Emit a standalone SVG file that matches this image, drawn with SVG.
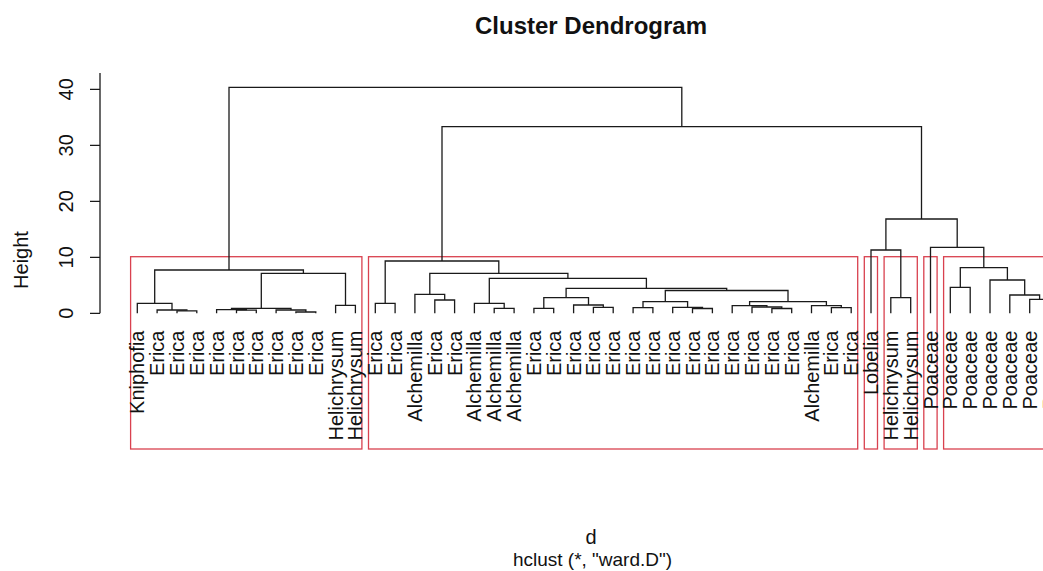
<svg xmlns="http://www.w3.org/2000/svg" width="1043" height="571" viewBox="0 0 1043 571">
<style>
  text { font-family: "Liberation Sans", Arial, sans-serif; fill: #111; }
  .title { font-size: 24px; font-weight: bold; text-anchor: middle; }
  .lab { font-size: 20px; }
  .sub { font-size: 19px; text-anchor: middle; }
  .leaf { font-size: 20px; text-anchor: end; }
  .axis { stroke: #1a1a1a; stroke-width: 1.3; fill: none; }
  .tree path { stroke: #1a1a1a; stroke-width: 1.3; fill: none; }
  .box { stroke: #d9414f; stroke-width: 1.3; fill: none; }
</style>
<rect width="1043" height="571" fill="#ffffff"/>
<text class="title" x="591" y="33.5">Cluster Dendrogram</text>
<g id="y-axis">
  <path class="axis" d="M100,73 V313.3 M90,313.3 H100 M90,257.3 H100 M90,201.3 H100 M90,145.3 H100 M90,89.3 H100"/>
  <text class="lab" text-anchor="middle" transform="translate(73,313.3) rotate(-90)">0</text>
  <text class="lab" text-anchor="middle" transform="translate(73,257.3) rotate(-90)">10</text>
  <text class="lab" text-anchor="middle" transform="translate(73,201.3) rotate(-90)">20</text>
  <text class="lab" text-anchor="middle" transform="translate(73,145.3) rotate(-90)">30</text>
  <text class="lab" text-anchor="middle" transform="translate(73,89.3) rotate(-90)">40</text>
  <text class="lab" text-anchor="middle" transform="translate(28,260) rotate(-90)">Height</text>
</g>
<g id="clusters">
  <rect id="cluster-1" class="box" x="130.6" y="256.7" width="231.3" height="192.3"/>
  <rect id="cluster-2" class="box" x="368.5" y="256.7" width="489.2" height="192.3"/>
  <rect id="cluster-3" class="box" x="864.3" y="256.7" width="13.2" height="192.3"/>
  <rect id="cluster-4" class="box" x="884.1" y="256.7" width="33.2" height="192.3"/>
  <rect id="cluster-5" class="box" x="923.8" y="256.7" width="13.3" height="192.3"/>
  <rect id="cluster-6" class="box" x="943.6" y="256.7" width="112.4" height="192.3"/>
</g>
<g id="connectors" class="tree">
  <path d="M177.0,313.3 V310.8 H196.8 V313.3"/>
  <path d="M157.1,313.3 V310.0 H186.9 V310.8"/>
  <path d="M137.3,313.3 V303.3 H172.0 V310.0"/>
  <path d="M236.5,313.3 V310.2 H256.3 V313.3"/>
  <path d="M216.6,313.3 V309.6 H246.4 V310.2"/>
  <path d="M295.9,313.3 V312.0 H315.8 V313.3"/>
  <path d="M276.1,313.3 V310.0 H305.9 V312.0"/>
  <path d="M231.5,309.6 V308.3 H291.0 V310.0"/>
  <path d="M335.6,313.3 V305.3 H355.4 V313.3"/>
  <path d="M261.3,308.3 V273.3 H345.5 V305.3"/>
  <path d="M154.7,303.3 V270.0 H303.4 V273.3"/>
  <path d="M375.3,313.3 V303.3 H395.1 V313.3"/>
  <path d="M434.8,313.3 V300.0 H454.6 V313.3"/>
  <path d="M414.9,313.3 V294.3 H444.7 V300.0"/>
  <path d="M494.2,313.3 V308.3 H514.1 V313.3"/>
  <path d="M474.4,313.3 V303.3 H504.2 V308.3"/>
  <path d="M533.9,313.3 V308.3 H553.7 V313.3"/>
  <path d="M593.4,313.3 V307.3 H613.2 V313.3"/>
  <path d="M573.6,313.3 V305.0 H603.3 V307.3"/>
  <path d="M543.8,308.3 V297.7 H588.5 V305.0"/>
  <path d="M633.1,313.3 V307.7 H652.9 V313.3"/>
  <path d="M692.5,313.3 V308.5 H712.4 V313.3"/>
  <path d="M672.7,313.3 V307.3 H702.5 V308.5"/>
  <path d="M643.0,307.7 V301.7 H687.6 V307.3"/>
  <path d="M771.9,313.3 V308.5 H791.7 V313.3"/>
  <path d="M752.0,313.3 V307.0 H781.8 V308.5"/>
  <path d="M732.2,313.3 V305.7 H766.9 V307.0"/>
  <path d="M831.4,313.3 V307.7 H851.2 V313.3"/>
  <path d="M811.5,313.3 V305.7 H841.3 V307.7"/>
  <path d="M749.6,305.7 V301.7 H826.4 V305.7"/>
  <path d="M665.3,301.7 V290.5 H788.0 V301.7"/>
  <path d="M566.1,297.7 V288.3 H726.7 V290.5"/>
  <path d="M489.3,303.3 V278.3 H646.4 V288.3"/>
  <path d="M429.8,294.3 V273.3 H567.9 V278.3"/>
  <path d="M385.2,303.3 V261.0 H498.8 V273.3"/>
  <path d="M890.8,313.3 V297.7 H910.7 V313.3"/>
  <path d="M871.0,313.3 V250.0 H900.8 V297.7"/>
  <path d="M950.3,313.3 V287.3 H970.2 V313.3"/>
  <path d="M1029.7,313.3 V299.3 H1049.5 V313.3"/>
  <path d="M1009.8,313.3 V295.0 H1039.6 V299.3"/>
  <path d="M990.0,313.3 V280.0 H1024.7 V295.0"/>
  <path d="M960.3,287.3 V267.7 H1007.4 V280.0"/>
  <path d="M930.5,313.3 V247.3 H983.8 V267.7"/>
  <path d="M885.9,250.0 V219.0 H957.2 V247.3"/>
  <path d="M442.0,261.0 V126.7 H921.5 V219.0"/>
  <path d="M229.0,270.0 V87.3 H681.8 V126.7"/>
</g>
<g id="leaves">
  <g id="leaf-1"><text class="leaf" transform="translate(144.3,330.5) rotate(-90)">Kniphofia</text></g>
  <g id="leaf-2"><text class="leaf" transform="translate(164.1,330.5) rotate(-90)">Erica</text></g>
  <g id="leaf-3"><text class="leaf" transform="translate(184.0,330.5) rotate(-90)">Erica</text></g>
  <g id="leaf-4"><text class="leaf" transform="translate(203.8,330.5) rotate(-90)">Erica</text></g>
  <g id="leaf-5"><text class="leaf" transform="translate(223.6,330.5) rotate(-90)">Erica</text></g>
  <g id="leaf-6"><text class="leaf" transform="translate(243.5,330.5) rotate(-90)">Erica</text></g>
  <g id="leaf-7"><text class="leaf" transform="translate(263.3,330.5) rotate(-90)">Erica</text></g>
  <g id="leaf-8"><text class="leaf" transform="translate(283.1,330.5) rotate(-90)">Erica</text></g>
  <g id="leaf-9"><text class="leaf" transform="translate(302.9,330.5) rotate(-90)">Erica</text></g>
  <g id="leaf-10"><text class="leaf" transform="translate(322.8,330.5) rotate(-90)">Erica</text></g>
  <g id="leaf-11"><text class="leaf" transform="translate(342.6,330.5) rotate(-90)">Helichrysum</text></g>
  <g id="leaf-12"><text class="leaf" transform="translate(362.4,330.5) rotate(-90)">Helichrysum</text></g>
  <g id="leaf-13"><text class="leaf" transform="translate(382.3,330.5) rotate(-90)">Erica</text></g>
  <g id="leaf-14"><text class="leaf" transform="translate(402.1,330.5) rotate(-90)">Erica</text></g>
  <g id="leaf-15"><text class="leaf" transform="translate(421.9,330.5) rotate(-90)">Alchemilla</text></g>
  <g id="leaf-16"><text class="leaf" transform="translate(441.8,330.5) rotate(-90)">Erica</text></g>
  <g id="leaf-17"><text class="leaf" transform="translate(461.6,330.5) rotate(-90)">Erica</text></g>
  <g id="leaf-18"><text class="leaf" transform="translate(481.4,330.5) rotate(-90)">Alchemilla</text></g>
  <g id="leaf-19"><text class="leaf" transform="translate(501.2,330.5) rotate(-90)">Alchemilla</text></g>
  <g id="leaf-20"><text class="leaf" transform="translate(521.1,330.5) rotate(-90)">Alchemilla</text></g>
  <g id="leaf-21"><text class="leaf" transform="translate(540.9,330.5) rotate(-90)">Erica</text></g>
  <g id="leaf-22"><text class="leaf" transform="translate(560.7,330.5) rotate(-90)">Erica</text></g>
  <g id="leaf-23"><text class="leaf" transform="translate(580.6,330.5) rotate(-90)">Erica</text></g>
  <g id="leaf-24"><text class="leaf" transform="translate(600.4,330.5) rotate(-90)">Erica</text></g>
  <g id="leaf-25"><text class="leaf" transform="translate(620.2,330.5) rotate(-90)">Erica</text></g>
  <g id="leaf-26"><text class="leaf" transform="translate(640.1,330.5) rotate(-90)">Erica</text></g>
  <g id="leaf-27"><text class="leaf" transform="translate(659.9,330.5) rotate(-90)">Erica</text></g>
  <g id="leaf-28"><text class="leaf" transform="translate(679.7,330.5) rotate(-90)">Erica</text></g>
  <g id="leaf-29"><text class="leaf" transform="translate(699.5,330.5) rotate(-90)">Erica</text></g>
  <g id="leaf-30"><text class="leaf" transform="translate(719.4,330.5) rotate(-90)">Erica</text></g>
  <g id="leaf-31"><text class="leaf" transform="translate(739.2,330.5) rotate(-90)">Erica</text></g>
  <g id="leaf-32"><text class="leaf" transform="translate(759.0,330.5) rotate(-90)">Erica</text></g>
  <g id="leaf-33"><text class="leaf" transform="translate(778.9,330.5) rotate(-90)">Erica</text></g>
  <g id="leaf-34"><text class="leaf" transform="translate(798.7,330.5) rotate(-90)">Erica</text></g>
  <g id="leaf-35"><text class="leaf" transform="translate(818.5,330.5) rotate(-90)">Alchemilla</text></g>
  <g id="leaf-36"><text class="leaf" transform="translate(838.4,330.5) rotate(-90)">Erica</text></g>
  <g id="leaf-37"><text class="leaf" transform="translate(858.2,330.5) rotate(-90)">Erica</text></g>
  <g id="leaf-38"><text class="leaf" transform="translate(878.0,330.5) rotate(-90)">Lobelia</text></g>
  <g id="leaf-39"><text class="leaf" transform="translate(897.8,330.5) rotate(-90)">Helichrysum</text></g>
  <g id="leaf-40"><text class="leaf" transform="translate(917.7,330.5) rotate(-90)">Helichrysum</text></g>
  <g id="leaf-41"><text class="leaf" transform="translate(937.5,330.5) rotate(-90)">Poaceae</text></g>
  <g id="leaf-42"><text class="leaf" transform="translate(957.3,330.5) rotate(-90)">Poaceae</text></g>
  <g id="leaf-43"><text class="leaf" transform="translate(977.2,330.5) rotate(-90)">Poaceae</text></g>
  <g id="leaf-44"><text class="leaf" transform="translate(997.0,330.5) rotate(-90)">Poaceae</text></g>
  <g id="leaf-45"><text class="leaf" transform="translate(1016.8,330.5) rotate(-90)">Poaceae</text></g>
  <g id="leaf-46"><text class="leaf" transform="translate(1036.7,330.5) rotate(-90)">Poaceae</text></g>
  <g id="leaf-47"><text class="leaf" transform="translate(1056.5,330.5) rotate(-90)">Poaceae</text></g>
</g>
<text class="lab" text-anchor="middle" x="591" y="544">d</text>
<text class="sub" x="592.5" y="566">hclust (*, "ward.D")</text>
</svg>
